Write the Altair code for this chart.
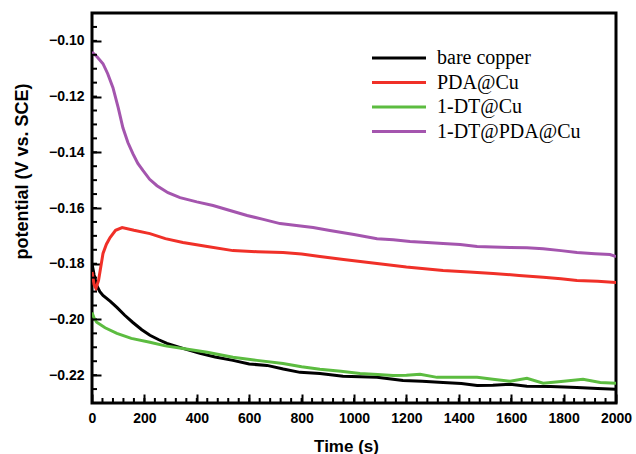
import altair as alt
import pandas as pd

series_names = ["bare copper", "PDA@Cu", "1-DT@Cu", "1-DT@PDA@Cu"]
series_colors = ["#000000", "#f03028", "#5cbc40", "#a455ae"]

bare_t = [0, 8, 18, 30, 42, 70, 95, 125, 156, 190, 221, 255, 286, 347, 412, 470, 538, 600, 668, 730, 794, 870, 958, 1088, 1187, 1260, 1340, 1410, 1470, 1530, 1596, 1660, 1750, 1851, 1930, 2000]
bare_v = [-0.1800, -0.1840, -0.1878, -0.1900, -0.1914, -0.1935, -0.1957, -0.1985, -0.2011, -0.2037, -0.2057, -0.2073, -0.2086, -0.2104, -0.2122, -0.2135, -0.2147, -0.2160, -0.2165, -0.2178, -0.2190, -0.2194, -0.2204, -0.2208, -0.2219, -0.2222, -0.2226, -0.2230, -0.2237, -0.2236, -0.2233, -0.2240, -0.2241, -0.2244, -0.2248, -0.2251]

pda_t = [0, 8, 15, 25, 42, 55, 69, 90, 115, 160, 221, 280, 347, 440, 538, 630, 729, 800, 870, 960, 1088, 1200, 1340, 1440, 1531, 1630, 1722, 1790, 1851, 1930, 2000]
pda_v = [-0.1830, -0.1875, -0.1889, -0.1860, -0.1763, -0.1730, -0.1706, -0.1680, -0.1670, -0.1680, -0.1692, -0.1710, -0.1724, -0.1738, -0.1753, -0.1757, -0.1760, -0.1765, -0.1774, -0.1785, -0.1799, -0.1812, -0.1824, -0.1830, -0.1835, -0.1842, -0.1849, -0.1854, -0.1860, -0.1863, -0.1867]

dt_t = [0, 8, 18, 50, 95, 150, 221, 280, 347, 440, 538, 630, 729, 800, 870, 950, 1023, 1090, 1149, 1200, 1252, 1317, 1400, 1470, 1530, 1596, 1660, 1722, 1800, 1874, 1940, 2000]
dt_v = [-0.1975, -0.1995, -0.2010, -0.2030, -0.2050, -0.2068, -0.2082, -0.2095, -0.2104, -0.2118, -0.2136, -0.2147, -0.2158, -0.2170, -0.2179, -0.2186, -0.2194, -0.2198, -0.2201, -0.2200, -0.2197, -0.2208, -0.2208, -0.2208, -0.2215, -0.2222, -0.2211, -0.2229, -0.2222, -0.2215, -0.2226, -0.2229]

dtpda_t = [0, 20, 42, 60, 80, 100, 118, 137, 156, 175, 195, 220, 248, 290, 336, 400, 462, 530, 592, 650, 718, 780, 844, 908, 1000, 1088, 1150, 1214, 1279, 1340, 1405, 1470, 1530, 1596, 1660, 1722, 1790, 1851, 1920, 1977, 2000]
dtpda_v = [-0.1040, -0.1058, -0.1082, -0.1118, -0.1168, -0.1240, -0.1312, -0.1365, -0.1405, -0.1440, -0.1466, -0.1497, -0.1520, -0.1545, -0.1563, -0.1578, -0.1591, -0.1610, -0.1627, -0.1640, -0.1656, -0.1663, -0.1670, -0.1681, -0.1695, -0.1710, -0.1714, -0.1720, -0.1724, -0.1727, -0.1731, -0.1738, -0.1740, -0.1742, -0.1743, -0.1746, -0.1753, -0.1760, -0.1764, -0.1767, -0.1774]

x_major = [0, 200, 400, 600, 800, 1000, 1200, 1400, 1600, 1800, 2000]
x_minor = [i * 40 for i in range(51)]
y_major = [-0.22, -0.20, -0.18, -0.16, -0.14, -0.12, -0.10]
y_minor = [round(-0.225 + i * 0.005, 3) for i in range(27)]

rows = []
for name, ts, vs in zip(series_names, [bare_t, pda_t, dt_t, dtpda_t], [bare_v, pda_v, dt_v, dtpda_v]):
    for t, v in zip(ts, vs):
        rows.append({"series": name, "t": t, "v": v})
df = pd.DataFrame(rows)

W, H = 524, 390
MAJ, MIN = 9, 5
xs = alt.Scale(domain=[0, 2000], nice=False, zero=False)
ys = alt.Scale(domain=[-0.23, -0.09], nice=False, zero=False)

x_axis = alt.Axis(title="Time (s)", orient="bottom", values=x_major, format="d", domain=False, grid=False,
                  tickSize=MAJ, tickWidth=2, tickColor="black", offset=-MAJ, labelFlush=False,
                  labelPadding=8, titlePadding=13, titleFontSize=17, titleX=254)
y_axis = alt.Axis(title="potential (V vs. SCE)", orient="left", values=y_major, format=".2f", domain=False, grid=False,
                  tickSize=MAJ, tickWidth=2, tickColor="black", offset=-MAJ, labelFlush=False,
                  labelPadding=8, titlePadding=17, titleFontSize=18, titleY=158)

lines = alt.Chart(df).mark_line(strokeWidth=3, clip=True).encode(
    x=alt.X("t:Q", scale=xs, axis=x_axis),
    y=alt.Y("v:Q", scale=ys, axis=y_axis),
    color=alt.Color("series:N", scale=alt.Scale(domain=series_names, range=series_colors),
                    sort=series_names,
                    legend=alt.Legend(title=None, orient="none", legendX=297, legendY=35, padding=0,
                                      symbolType="M-9,0H9", symbolSize=36, symbolStrokeWidth=3,
                                      labelFont="Liberation Serif", labelFontSize=20, labelColor="black",
                                      rowPadding=4.5, labelOffset=28)),
    order=alt.Order("t:Q"),
)

ytick_minor = alt.Chart(pd.DataFrame({"v": y_minor})).mark_rule(color="black", strokeWidth=2).encode(
    y=alt.Y("v:Q", scale=ys), x=alt.value(0), x2=alt.value(MIN))
xtick_minor = alt.Chart(pd.DataFrame({"t": x_minor})).mark_rule(color="black", strokeWidth=2).encode(
    x=alt.X("t:Q", scale=xs), y=alt.value(H), y2=alt.value(H - MIN))

chart = alt.layer(lines, ytick_minor, xtick_minor).properties(
    width=W, height=H,
    autosize=alt.AutoSizeParams(type="none"),
    padding={"left": 92, "top": 13, "right": 20, "bottom": 51},
).configure_view(
    stroke="black", strokeWidth=3
).configure_axis(
    labelFont="Liberation Sans", labelFontWeight="bold", labelFontSize=14, labelColor="black",
    titleFont="Liberation Sans", titleFontWeight="bold", titleColor="black",
)

chart.save("out.html", embed_options={"renderer": "svg", "actions": False})
